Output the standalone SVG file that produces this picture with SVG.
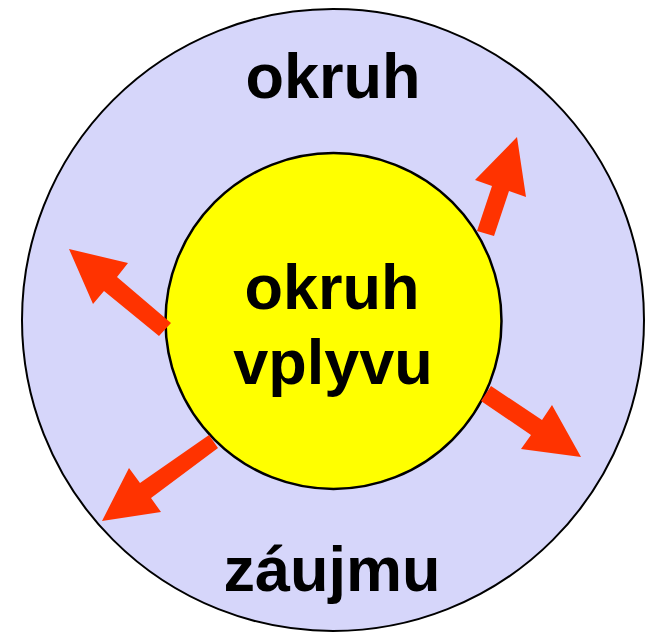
<svg xmlns="http://www.w3.org/2000/svg" width="652" height="632" viewBox="0 0 652 632">
<style>
.lbl{font-family:"Liberation Sans",Arial,sans-serif;font-weight:bold;font-size:63px;fill:#000;text-anchor:middle}
.arrow{fill:#FF3300;stroke:none}
</style>
<rect width="652" height="632" fill="#fff"/>
<g id="outer">
<circle cx="333" cy="320" r="311" fill="#D6D6FA" stroke="#000" stroke-width="2"/>
<text class="lbl" x="333" y="98">okruh</text>
<text class="lbl" x="332" y="591">záujmu</text>
</g>
<g id="inner">
<circle cx="333.5" cy="321" r="168" fill="#FFFF00" stroke="#000" stroke-width="2.5"/>
<text class="lbl" x="332" y="309">okruh</text>
<text class="lbl" x="333" y="384">vplyvu</text>
</g>
<g id="connectors">
<polygon class="arrow" points="477,231 492,186 475,180 517,137 526,197 509,191 494,236"/>
<polygon class="arrow" points="171,323 117,277 128,263 69,249 93,304 104,291 159,336"/>
<polygon class="arrow" points="491,386 542,420 552,405 581,457 521,449 531,435 481,401"/>
<polygon class="arrow" points="209,435 140,483 129,468 102,521 161,512 151,498 218,448"/>
</g>
</svg>
